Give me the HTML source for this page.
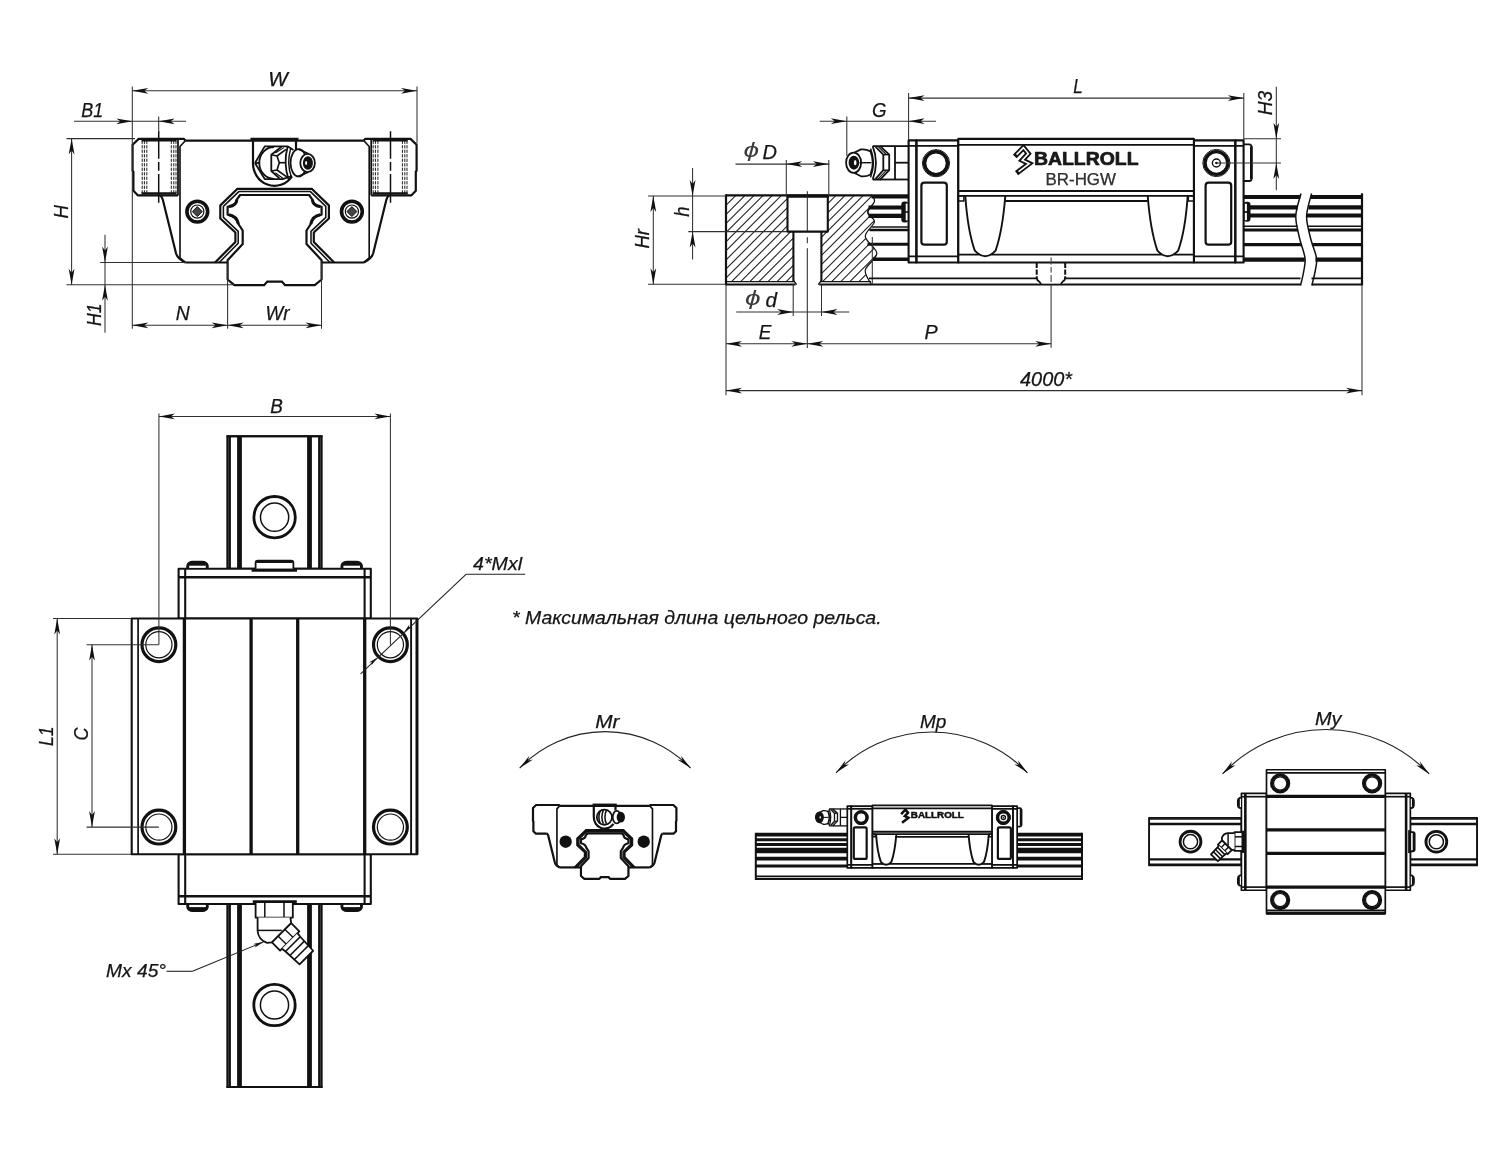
<!DOCTYPE html>
<html lang="ru"><head><meta charset="utf-8"><title>BR-HGW</title>
<style>html,body{margin:0;padding:0;background:#fff;overflow:hidden}svg{display:block;will-change:transform}text{font-family:"Liberation Sans",sans-serif}.ns *{vector-effect:non-scaling-stroke}</style></head><body>
<svg width="1500" height="1151" viewBox="0 0 1500 1151" stroke-linecap="butt" stroke-linejoin="round">
<rect width="1500" height="1151" fill="#fff"/>
<g id="endview">
<path d="M185.3,140.7 L184,138.9 L138.7,138.9 L132.6,144.7 L132.6,170.7 L133.4,171.5 L133.4,190.7 L138,195.4 L178,195.4" stroke="#111" stroke-width="2.2" fill="none" />
<path d="M178,139.5 L178,195.4" stroke="#111" stroke-width="1.7600000000000002" fill="none" />
<path d="M185.3,140.7 L180,146.5 L180,258 L185.3,262.5" stroke="#111" stroke-width="1.6500000000000001" fill="none" />
<path d="M160,195.4 Q162,196.5 162.9,200 L176,253.3 Q177.5,258.6 185.3,262.5" stroke="#111" stroke-width="2.2" fill="none" />
<path d="M185.3,262.5 L227.6,262.5" stroke="#111" stroke-width="2.2" fill="none" />
<path d="M237.5,188.8 L220.3,205.4 L220.3,218.5 L235.4,232.5 L235.4,241.9 L215.1,262.5" stroke="#111" stroke-width="2.2" fill="none" />
<path d="M238.8,191.6 L223.4,206.4 L223.4,217.4 L238.2,231.4 L238.2,243.2 L219.2,262.5" stroke="#111" stroke-width="1.54" fill="none" />
<path d="M240.1,195 L236.8,199.6 Q236.5,205.5 227.6,206.8 L227.6,214.6 Q236.6,216 238.4,224 L242.7,230.5 L242.7,244 L227.6,260.2 L227.6,279.5 L234.4,285.2 L264.1,285.2 L267.2,281.6" stroke="#111" stroke-width="2.2" fill="none" />
<path d="M236.8,199.6 Q236.5,205.5 229,206.6" stroke="#111" stroke-width="3.0" fill="none" />
<path d="M229,214.8 Q236.6,216 238.4,224" stroke="#111" stroke-width="3.0" fill="none" />
<line x1="142.2" y1="140.7" x2="142.2" y2="193.2" stroke="#111" stroke-width="0.95" stroke-dasharray="3.2 1.3"/>
<line x1="144.4" y1="140.7" x2="144.4" y2="193.2" stroke="#111" stroke-width="0.95" stroke-dasharray="3.2 1.3"/>
<line x1="146.8" y1="140.7" x2="146.8" y2="193.2" stroke="#111" stroke-width="0.95" stroke-dasharray="3.2 1.3"/>
<line x1="171.3" y1="140.7" x2="171.3" y2="193.2" stroke="#111" stroke-width="0.95" stroke-dasharray="3.2 1.3"/>
<line x1="173.8" y1="140.7" x2="173.8" y2="193.2" stroke="#111" stroke-width="0.95" stroke-dasharray="3.2 1.3"/>
<line x1="176" y1="140.7" x2="176" y2="193.2" stroke="#111" stroke-width="0.95" stroke-dasharray="3.2 1.3"/>
<line x1="141.5" y1="140.2" x2="176.5" y2="140.2" stroke="#111" stroke-width="2.6" />
<line x1="141.5" y1="193.4" x2="176.5" y2="193.4" stroke="#111" stroke-width="2.4" />
<line x1="158.7" y1="131.3" x2="158.7" y2="202.7" stroke="#111" stroke-width="1.5" stroke-dasharray="27.4 3.3 8.7 3.3 30"/>
<circle cx="197.3" cy="211.6" r="10.4" stroke="#111" stroke-width="3.6" fill="none"/>
<circle cx="197.3" cy="211.6" r="6.6" stroke="#111" stroke-width="1.2" fill="none"/>
<path d="M192.3,211.6 L197.3,206.6 L202.3,211.6 L197.3,216.6 Z" stroke="#111" stroke-width="1.0" fill="#444" />
<path d="M363.9,140.7 L365.2,138.9 L410.5,138.9 L416.6,144.7 L416.6,170.7 L415.8,171.5 L415.8,190.7 L411.2,195.4 L371.2,195.4" stroke="#111" stroke-width="2.2" fill="none" />
<path d="M371.2,139.5 L371.2,195.4" stroke="#111" stroke-width="1.7600000000000002" fill="none" />
<path d="M363.9,140.7 L369.2,146.5 L369.2,258 L363.9,262.5" stroke="#111" stroke-width="1.6500000000000001" fill="none" />
<path d="M389.2,195.4 Q387.2,196.5 386.3,200 L373.2,253.3 Q371.7,258.6 363.9,262.5" stroke="#111" stroke-width="2.2" fill="none" />
<path d="M363.9,262.5 L321.6,262.5" stroke="#111" stroke-width="2.2" fill="none" />
<path d="M311.7,188.8 L328.9,205.4 L328.9,218.5 L313.8,232.5 L313.8,241.9 L334.1,262.5" stroke="#111" stroke-width="2.2" fill="none" />
<path d="M310.4,191.6 L325.8,206.4 L325.8,217.4 L311,231.4 L311,243.2 L330,262.5" stroke="#111" stroke-width="1.54" fill="none" />
<path d="M309.1,195 L312.4,199.6 Q312.7,205.5 321.6,206.8 L321.6,214.6 Q312.6,216 310.8,224 L306.5,230.5 L306.5,244 L321.6,260.2 L321.6,279.5 L314.8,285.2 L285.1,285.2 L282,281.6" stroke="#111" stroke-width="2.2" fill="none" />
<path d="M312.4,199.6 Q312.7,205.5 320.2,206.6" stroke="#111" stroke-width="3.0" fill="none" />
<path d="M320.2,214.8 Q312.6,216 310.8,224" stroke="#111" stroke-width="3.0" fill="none" />
<line x1="407" y1="140.7" x2="407" y2="193.2" stroke="#111" stroke-width="0.95" stroke-dasharray="3.2 1.3"/>
<line x1="404.8" y1="140.7" x2="404.8" y2="193.2" stroke="#111" stroke-width="0.95" stroke-dasharray="3.2 1.3"/>
<line x1="402.4" y1="140.7" x2="402.4" y2="193.2" stroke="#111" stroke-width="0.95" stroke-dasharray="3.2 1.3"/>
<line x1="377.9" y1="140.7" x2="377.9" y2="193.2" stroke="#111" stroke-width="0.95" stroke-dasharray="3.2 1.3"/>
<line x1="375.4" y1="140.7" x2="375.4" y2="193.2" stroke="#111" stroke-width="0.95" stroke-dasharray="3.2 1.3"/>
<line x1="373.2" y1="140.7" x2="373.2" y2="193.2" stroke="#111" stroke-width="0.95" stroke-dasharray="3.2 1.3"/>
<line x1="407.7" y1="140.2" x2="372.7" y2="140.2" stroke="#111" stroke-width="2.6" />
<line x1="407.7" y1="193.4" x2="372.7" y2="193.4" stroke="#111" stroke-width="2.4" />
<line x1="390.5" y1="131.3" x2="390.5" y2="202.7" stroke="#111" stroke-width="1.5" stroke-dasharray="27.4 3.3 8.7 3.3 30"/>
<circle cx="351.9" cy="211.6" r="10.4" stroke="#111" stroke-width="3.6" fill="none"/>
<circle cx="351.9" cy="211.6" r="6.6" stroke="#111" stroke-width="1.2" fill="none"/>
<path d="M346.9,211.6 L351.9,206.6 L356.9,211.6 L351.9,216.6 Z" stroke="#111" stroke-width="1.0" fill="#444" />
<line x1="237.5" y1="188.8" x2="311.7" y2="188.8" stroke="#111" stroke-width="2.2" stroke-linecap="round"/>
<line x1="238.8" y1="191.6" x2="310.4" y2="191.6" stroke="#111" stroke-width="1.54" stroke-linecap="round"/>
<line x1="240.1" y1="195" x2="309.1" y2="195" stroke="#111" stroke-width="2.2" stroke-linecap="round"/>
<line x1="267.2" y1="281.6" x2="282" y2="281.6" stroke="#111" stroke-width="2.2" stroke-linecap="round"/>
<line x1="185.3" y1="140.7" x2="363.9" y2="140.7" stroke="#111" stroke-width="2.2" />
<line x1="250.5" y1="139.4" x2="298.5" y2="139.4" stroke="#111" stroke-width="3.4" />
<path d="M253,140.7 L253,162 A21.5,22.6 0 0 0 292,176.3" stroke="#111" stroke-width="2.2" fill="none" />
<line x1="296" y1="140.7" x2="296" y2="149.6" stroke="#111" stroke-width="2.2" />
<path d="M255,163 L264.7,146.4 L288,146.4 L293.4,150" stroke="#111" stroke-width="1.8" fill="none" />
<path d="M255,163 L264.7,179 L282.7,179.2 L292,176" stroke="#111" stroke-width="1.8" fill="none" />
<path d="M255,163 L259.4,163" stroke="#111" stroke-width="1.8" fill="none" />
<path d="M274,147 A14.7,15.9 0 0 0 274,178.8" stroke="#111" stroke-width="1.8" fill="none" />
<path d="M281.5,146.8 L271.3,154.7 L271.3,171 L279.5,178.4" stroke="#111" stroke-width="1.8" fill="none" />
<path d="M271.3,154.7 L277,156 L279.3,162.7 L277,170 L271.3,171" stroke="#111" stroke-width="1.62" fill="none" />
<path d="M277,156 L286,149.3" stroke="#111" stroke-width="1.62" fill="none" />
<path d="M277,170 L286.7,176.9" stroke="#111" stroke-width="1.62" fill="none" />
<path d="M279.3,162.7 L285.3,162.7" stroke="#111" stroke-width="1.62" fill="none" />
<path d="M275.3,153 L284,147.6" stroke="#111" stroke-width="1.08" fill="none" />
<path d="M275.3,172.8 L283.5,178.7" stroke="#111" stroke-width="1.08" fill="none" />
<path d="M287.6,146.8 Q283.2,163 288.4,179" stroke="#111" stroke-width="1.8" fill="none" />
<path d="M290.6,148.6 Q286.6,163 291.2,176.8" stroke="#111" stroke-width="1.4400000000000002" fill="none" />
<ellipse cx="298.6" cy="162.8" rx="8.1" ry="13.6" stroke="#111" stroke-width="1.8" fill="#fff" />
<path d="M298.6,149.2 L308.5,153.8 M298.6,176.4 L308.5,172" stroke="#111" stroke-width="1.8" fill="none" />
<ellipse cx="307.6" cy="163" rx="7.3" ry="9.1" stroke="#111" stroke-width="1.8" fill="#fff" />
<ellipse cx="307.9" cy="163" rx="4.4" ry="6.2" stroke="#111" stroke-width="1.2" fill="#111" />
<ellipse cx="306.1" cy="163" rx="1" ry="2.1" stroke="#111" stroke-width="0" fill="#fff" />
<line x1="132.3" y1="86.5" x2="132.3" y2="328.8" stroke="#303030" stroke-width="1.05" />
<line x1="417" y1="86.5" x2="417" y2="143.5" stroke="#303030" stroke-width="1.05" />
<line x1="132.3" y1="90.8" x2="417" y2="90.8" stroke="#303030" stroke-width="1.05" />
<polygon points="132.3,90.8 148.3,93.7 144.3,90.8 148.3,87.9" fill="#111"/>
<polygon points="417,90.8 401,87.9 405,90.8 401,93.7" fill="#111"/>
<text x="268.2" y="85.8" font-size="19.5" font-style="italic" font-weight="normal" text-anchor="start" fill="#151515" textLength="19.6" lengthAdjust="spacingAndGlyphs" stroke="#151515" stroke-width="0.25">W</text>
<line x1="74" y1="121.3" x2="186" y2="121.3" stroke="#303030" stroke-width="1.05" />
<polygon points="132.3,121.3 116.3,118.4 120.3,121.3 116.3,124.2" fill="#111"/>
<polygon points="158.7,121.3 174.7,124.2 170.7,121.3 174.7,118.4" fill="#111"/>
<line x1="158.7" y1="116.5" x2="158.7" y2="133" stroke="#303030" stroke-width="1.05" />
<text x="81.3" y="116.7" font-size="19.5" font-style="italic" font-weight="normal" text-anchor="start" fill="#151515" textLength="22" lengthAdjust="spacingAndGlyphs" stroke="#151515" stroke-width="0.25">B1</text>
<line x1="66.5" y1="138.6" x2="135" y2="138.6" stroke="#303030" stroke-width="1.05" />
<line x1="66.5" y1="284.7" x2="234" y2="284.7" stroke="#303030" stroke-width="1.05" />
<line x1="71.6" y1="138.6" x2="71.6" y2="284.7" stroke="#303030" stroke-width="1.05" />
<polygon points="71.6,138.6 68.7,154.6 71.6,150.6 74.5,154.6" fill="#111"/>
<polygon points="71.6,284.7 74.5,268.7 71.6,272.7 68.7,268.7" fill="#111"/>
<text x="67.5" y="218.5" font-size="19.5" font-style="italic" font-weight="normal" text-anchor="start" fill="#151515" textLength="13.5" lengthAdjust="spacingAndGlyphs" transform="rotate(-90 67.5 218.5)" stroke="#151515" stroke-width="0.25">H</text>
<line x1="100.2" y1="262.4" x2="186" y2="262.4" stroke="#303030" stroke-width="1.05" />
<line x1="105" y1="234.8" x2="105" y2="332.8" stroke="#303030" stroke-width="1.05" />
<polygon points="105,262.4 107.9,246.4 105,250.4 102.1,246.4" fill="#111"/>
<polygon points="105,284.7 102.1,300.7 105,296.7 107.9,300.7" fill="#111"/>
<text x="101.2" y="326" font-size="19.5" font-style="italic" font-weight="normal" text-anchor="start" fill="#151515" textLength="22.5" lengthAdjust="spacingAndGlyphs" transform="rotate(-90 101.2 326)" stroke="#151515" stroke-width="0.25">H1</text>
<line x1="227.6" y1="262.5" x2="227.6" y2="328.8" stroke="#303030" stroke-width="1.05" />
<line x1="321.5" y1="262.5" x2="321.5" y2="328.8" stroke="#303030" stroke-width="1.05" />
<line x1="132.3" y1="325.3" x2="227.6" y2="325.3" stroke="#303030" stroke-width="1.05" />
<polygon points="132.3,325.3 148.3,328.2 144.3,325.3 148.3,322.4" fill="#111"/>
<polygon points="227.6,325.3 211.6,322.4 215.6,325.3 211.6,328.2" fill="#111"/>
<line x1="227.6" y1="325.3" x2="321.5" y2="325.3" stroke="#303030" stroke-width="1.05" />
<polygon points="227.6,325.3 243.6,328.2 239.6,325.3 243.6,322.4" fill="#111"/>
<polygon points="321.5,325.3 305.5,322.4 309.5,325.3 305.5,328.2" fill="#111"/>
<text x="175.8" y="320.3" font-size="19.5" font-style="italic" font-weight="normal" text-anchor="start" fill="#151515" textLength="14" lengthAdjust="spacingAndGlyphs" stroke="#151515" stroke-width="0.25">N</text>
<text x="265.4" y="320.3" font-size="19.5" font-style="italic" font-weight="normal" text-anchor="start" fill="#151515" textLength="24" lengthAdjust="spacingAndGlyphs" stroke="#151515" stroke-width="0.25">Wr</text>
</g>
<g id="sideview">
<clipPath id="hc"><path d="M726,195.3 L872,195.3 C872.4,196.37 875.12,198.8 874.4,201.7 C873.68,204.6 867.7,209.35 867.7,212.7 C867.7,216.05 874.8,217.82 874.4,221.8 C874,225.78 864.9,231.33 865.3,236.6 C865.7,241.87 876.8,247.82 876.8,253.4 C876.8,258.98 866.18,264.93 865.3,270.1 C864.42,275.27 870.47,282.02 871.5,284.4 L871.5,281.7 L726,281.7 Z"/></clipPath>
<g clip-path="url(#hc)">
<line x1="349.2" y1="300" x2="499.2" y2="150" stroke="#1c1c1c" stroke-width="1.05" />
<line x1="358.3" y1="300" x2="508.3" y2="150" stroke="#1c1c1c" stroke-width="1.05" />
<line x1="367.4" y1="300" x2="517.4" y2="150" stroke="#1c1c1c" stroke-width="1.05" />
<line x1="376.5" y1="300" x2="526.5" y2="150" stroke="#1c1c1c" stroke-width="1.05" />
<line x1="385.6" y1="300" x2="535.6" y2="150" stroke="#1c1c1c" stroke-width="1.05" />
<line x1="394.7" y1="300" x2="544.7" y2="150" stroke="#1c1c1c" stroke-width="1.05" />
<line x1="403.8" y1="300" x2="553.8" y2="150" stroke="#1c1c1c" stroke-width="1.05" />
<line x1="412.9" y1="300" x2="562.9" y2="150" stroke="#1c1c1c" stroke-width="1.05" />
<line x1="422" y1="300" x2="572" y2="150" stroke="#1c1c1c" stroke-width="1.05" />
<line x1="431.1" y1="300" x2="581.1" y2="150" stroke="#1c1c1c" stroke-width="1.05" />
<line x1="440.2" y1="300" x2="590.2" y2="150" stroke="#1c1c1c" stroke-width="1.05" />
<line x1="449.3" y1="300" x2="599.3" y2="150" stroke="#1c1c1c" stroke-width="1.05" />
<line x1="458.4" y1="300" x2="608.4" y2="150" stroke="#1c1c1c" stroke-width="1.05" />
<line x1="467.5" y1="300" x2="617.5" y2="150" stroke="#1c1c1c" stroke-width="1.05" />
<line x1="476.6" y1="300" x2="626.6" y2="150" stroke="#1c1c1c" stroke-width="1.05" />
<line x1="485.7" y1="300" x2="635.7" y2="150" stroke="#1c1c1c" stroke-width="1.05" />
<line x1="494.8" y1="300" x2="644.8" y2="150" stroke="#1c1c1c" stroke-width="1.05" />
<line x1="503.9" y1="300" x2="653.9" y2="150" stroke="#1c1c1c" stroke-width="1.05" />
<line x1="513" y1="300" x2="663" y2="150" stroke="#1c1c1c" stroke-width="1.05" />
<line x1="522.1" y1="300" x2="672.1" y2="150" stroke="#1c1c1c" stroke-width="1.05" />
<line x1="531.2" y1="300" x2="681.2" y2="150" stroke="#1c1c1c" stroke-width="1.05" />
<line x1="540.3" y1="300" x2="690.3" y2="150" stroke="#1c1c1c" stroke-width="1.05" />
<line x1="549.4" y1="300" x2="699.4" y2="150" stroke="#1c1c1c" stroke-width="1.05" />
<line x1="558.5" y1="300" x2="708.5" y2="150" stroke="#1c1c1c" stroke-width="1.05" />
<line x1="567.6" y1="300" x2="717.6" y2="150" stroke="#1c1c1c" stroke-width="1.05" />
<line x1="576.7" y1="300" x2="726.7" y2="150" stroke="#1c1c1c" stroke-width="1.05" />
<line x1="585.8" y1="300" x2="735.8" y2="150" stroke="#1c1c1c" stroke-width="1.05" />
<line x1="594.9" y1="300" x2="744.9" y2="150" stroke="#1c1c1c" stroke-width="1.05" />
<line x1="604" y1="300" x2="754" y2="150" stroke="#1c1c1c" stroke-width="1.05" />
<line x1="613.1" y1="300" x2="763.1" y2="150" stroke="#1c1c1c" stroke-width="1.05" />
<line x1="622.2" y1="300" x2="772.2" y2="150" stroke="#1c1c1c" stroke-width="1.05" />
<line x1="631.3" y1="300" x2="781.3" y2="150" stroke="#1c1c1c" stroke-width="1.05" />
<line x1="640.4" y1="300" x2="790.4" y2="150" stroke="#1c1c1c" stroke-width="1.05" />
<line x1="649.5" y1="300" x2="799.5" y2="150" stroke="#1c1c1c" stroke-width="1.05" />
<line x1="658.6" y1="300" x2="808.6" y2="150" stroke="#1c1c1c" stroke-width="1.05" />
<line x1="667.7" y1="300" x2="817.7" y2="150" stroke="#1c1c1c" stroke-width="1.05" />
<line x1="676.8" y1="300" x2="826.8" y2="150" stroke="#1c1c1c" stroke-width="1.05" />
<line x1="685.9" y1="300" x2="835.9" y2="150" stroke="#1c1c1c" stroke-width="1.05" />
<line x1="695" y1="300" x2="845" y2="150" stroke="#1c1c1c" stroke-width="1.05" />
<line x1="704.1" y1="300" x2="854.1" y2="150" stroke="#1c1c1c" stroke-width="1.05" />
<line x1="713.2" y1="300" x2="863.2" y2="150" stroke="#1c1c1c" stroke-width="1.05" />
<line x1="722.3" y1="300" x2="872.3" y2="150" stroke="#1c1c1c" stroke-width="1.05" />
<line x1="731.4" y1="300" x2="881.4" y2="150" stroke="#1c1c1c" stroke-width="1.05" />
<line x1="740.5" y1="300" x2="890.5" y2="150" stroke="#1c1c1c" stroke-width="1.05" />
<line x1="749.6" y1="300" x2="899.6" y2="150" stroke="#1c1c1c" stroke-width="1.05" />
<line x1="758.7" y1="300" x2="908.7" y2="150" stroke="#1c1c1c" stroke-width="1.05" />
<line x1="767.8" y1="300" x2="917.8" y2="150" stroke="#1c1c1c" stroke-width="1.05" />
<line x1="776.9" y1="300" x2="926.9" y2="150" stroke="#1c1c1c" stroke-width="1.05" />
<line x1="786" y1="300" x2="936" y2="150" stroke="#1c1c1c" stroke-width="1.05" />
<line x1="795.1" y1="300" x2="945.1" y2="150" stroke="#1c1c1c" stroke-width="1.05" />
<line x1="804.2" y1="300" x2="954.2" y2="150" stroke="#1c1c1c" stroke-width="1.05" />
<line x1="813.3" y1="300" x2="963.3" y2="150" stroke="#1c1c1c" stroke-width="1.05" />
<line x1="822.4" y1="300" x2="972.4" y2="150" stroke="#1c1c1c" stroke-width="1.05" />
<line x1="831.5" y1="300" x2="981.5" y2="150" stroke="#1c1c1c" stroke-width="1.05" />
<line x1="840.6" y1="300" x2="990.6" y2="150" stroke="#1c1c1c" stroke-width="1.05" />
<line x1="849.7" y1="300" x2="999.7" y2="150" stroke="#1c1c1c" stroke-width="1.05" />
<line x1="858.8" y1="300" x2="1008.8" y2="150" stroke="#1c1c1c" stroke-width="1.05" />
<line x1="867.9" y1="300" x2="1017.9" y2="150" stroke="#1c1c1c" stroke-width="1.05" />
<line x1="877" y1="300" x2="1027" y2="150" stroke="#1c1c1c" stroke-width="1.05" />
<line x1="886.1" y1="300" x2="1036.1" y2="150" stroke="#1c1c1c" stroke-width="1.05" />
<line x1="895.2" y1="300" x2="1045.2" y2="150" stroke="#1c1c1c" stroke-width="1.05" />
<line x1="904.3" y1="300" x2="1054.3" y2="150" stroke="#1c1c1c" stroke-width="1.05" />
<line x1="913.4" y1="300" x2="1063.4" y2="150" stroke="#1c1c1c" stroke-width="1.05" />
<line x1="922.5" y1="300" x2="1072.5" y2="150" stroke="#1c1c1c" stroke-width="1.05" />
<line x1="931.6" y1="300" x2="1081.6" y2="150" stroke="#1c1c1c" stroke-width="1.05" />
<line x1="940.7" y1="300" x2="1090.7" y2="150" stroke="#1c1c1c" stroke-width="1.05" />
<line x1="949.8" y1="300" x2="1099.8" y2="150" stroke="#1c1c1c" stroke-width="1.05" />
<line x1="958.9" y1="300" x2="1108.9" y2="150" stroke="#1c1c1c" stroke-width="1.05" />
<line x1="968" y1="300" x2="1118" y2="150" stroke="#1c1c1c" stroke-width="1.05" />
<line x1="977.1" y1="300" x2="1127.1" y2="150" stroke="#1c1c1c" stroke-width="1.05" />
<line x1="986.2" y1="300" x2="1136.2" y2="150" stroke="#1c1c1c" stroke-width="1.05" />
<line x1="995.3" y1="300" x2="1145.3" y2="150" stroke="#1c1c1c" stroke-width="1.05" />
<line x1="1004.4" y1="300" x2="1154.4" y2="150" stroke="#1c1c1c" stroke-width="1.05" />
<line x1="1013.5" y1="300" x2="1163.5" y2="150" stroke="#1c1c1c" stroke-width="1.05" />
<line x1="1022.6" y1="300" x2="1172.6" y2="150" stroke="#1c1c1c" stroke-width="1.05" />
<line x1="1031.7" y1="300" x2="1181.7" y2="150" stroke="#1c1c1c" stroke-width="1.05" />
<line x1="1040.8" y1="300" x2="1190.8" y2="150" stroke="#1c1c1c" stroke-width="1.05" />
<line x1="1049.9" y1="300" x2="1199.9" y2="150" stroke="#1c1c1c" stroke-width="1.05" />
<line x1="1059" y1="300" x2="1209" y2="150" stroke="#1c1c1c" stroke-width="1.05" />
<line x1="1068.1" y1="300" x2="1218.1" y2="150" stroke="#1c1c1c" stroke-width="1.05" />
</g>
<rect x="787.5" y="195.3" width="40.3" height="36.3" rx="0" stroke="#111" stroke-width="0" fill="#fff"/>
<rect x="793.4" y="231" width="28" height="54" rx="0" stroke="#111" stroke-width="0" fill="#fff"/>
<line x1="726" y1="194.3" x2="726" y2="285.4" stroke="#111" stroke-width="2.2" />
<line x1="726" y1="195.3" x2="872" y2="195.3" stroke="#111" stroke-width="2.2" />
<line x1="786.5" y1="196.2" x2="829" y2="196.2" stroke="#111" stroke-width="3.2" />
<line x1="726" y1="281.7" x2="794.6" y2="281.7" stroke="#111" stroke-width="1.3" />
<line x1="820.2" y1="281.7" x2="871" y2="281.7" stroke="#111" stroke-width="1.3" />
<line x1="726" y1="284.5" x2="795.5" y2="284.5" stroke="#111" stroke-width="2.0" />
<line x1="819.3" y1="284.5" x2="1300.5" y2="284.5" stroke="#111" stroke-width="2.0" />
<line x1="1311.8" y1="284.5" x2="1362" y2="284.5" stroke="#111" stroke-width="2.0" />
<path d="M787.5,196 L787.5,231.6 L827.8,231.6 L827.8,196" stroke="#111" stroke-width="2.1" fill="none" />
<path d="M793.4,231.6 L793.4,281" stroke="#111" stroke-width="2.1" fill="none" />
<path d="M821.4,231.6 L821.4,281" stroke="#111" stroke-width="2.1" fill="none" />
<path d="M793.6,280.6 L796.6,284.6" stroke="#111" stroke-width="1.3" fill="none" />
<path d="M821.2,280.6 L818.2,284.6" stroke="#111" stroke-width="1.3" fill="none" />
<path d="M872,195.3 C872.4,196.37 875.12,198.8 874.4,201.7 C873.68,204.6 867.7,209.35 867.7,212.7 C867.7,216.05 874.8,217.82 874.4,221.8 C874,225.78 864.9,231.33 865.3,236.6 C865.7,241.87 876.8,247.82 876.8,253.4 C876.8,258.98 866.18,264.93 865.3,270.1 C864.42,275.27 870.47,282.02 871.5,284.4" stroke="#111" stroke-width="1.2" fill="none" />
<rect x="871.5" y="194.3" width="37" height="4.2" rx="0" stroke="#111" stroke-width="0" fill="#111"/>
<rect x="868.5" y="205.5" width="34" height="4" rx="0" stroke="#111" stroke-width="0" fill="#111"/>
<rect x="868.5" y="213.7" width="34" height="4.3" rx="0" stroke="#111" stroke-width="0" fill="#111"/>
<path d="M869,209.5 Q866.2,211.6 869,213.7" stroke="#111" stroke-width="1.2" fill="none" />
<rect x="901.3" y="201.6" width="7.2" height="20.8" rx="3" fill="#111"/>
<rect x="905.7" y="203.6" width="2.3" height="7.6" rx="0" stroke="#111" stroke-width="0" fill="#fff"/>
<rect x="905.7" y="212.8" width="2.3" height="7.6" rx="0" stroke="#111" stroke-width="0" fill="#fff"/>
<line x1="871.5" y1="227" x2="908" y2="227" stroke="#111" stroke-width="1.5" />
<line x1="869.5" y1="230" x2="908" y2="230" stroke="#111" stroke-width="2.6" />
<line x1="867.5" y1="244.3" x2="908" y2="244.3" stroke="#111" stroke-width="3.0" />
<line x1="873" y1="259.2" x2="908" y2="259.2" stroke="#111" stroke-width="3.4" />
<line x1="872.3" y1="237" x2="872.3" y2="284.5" stroke="#303030" stroke-width="1.05" />
<line x1="869" y1="278.4" x2="1300.5" y2="278.4" stroke="#111" stroke-width="1.9" />
<line x1="1311.5" y1="278.4" x2="1362" y2="278.4" stroke="#111" stroke-width="1.9" />
<line x1="1244" y1="197" x2="1300.19" y2="197" stroke="#111" stroke-width="4.2" />
<line x1="1310.79" y1="197" x2="1362" y2="197" stroke="#111" stroke-width="4.2" />
<line x1="1244" y1="207.4" x2="1297.79" y2="207.4" stroke="#111" stroke-width="4.2" />
<line x1="1308.39" y1="207.4" x2="1362" y2="207.4" stroke="#111" stroke-width="4.2" />
<line x1="1244" y1="215.4" x2="1295.94" y2="215.4" stroke="#111" stroke-width="4.0" />
<line x1="1306.54" y1="215.4" x2="1362" y2="215.4" stroke="#111" stroke-width="4.0" />
<line x1="1244" y1="226.2" x2="1297.52" y2="226.2" stroke="#111" stroke-width="1.6" />
<line x1="1308.12" y1="226.2" x2="1362" y2="226.2" stroke="#111" stroke-width="1.6" />
<line x1="1244" y1="229.9" x2="1298.14" y2="229.9" stroke="#111" stroke-width="3.0" />
<line x1="1308.74" y1="229.9" x2="1362" y2="229.9" stroke="#111" stroke-width="3.0" />
<line x1="1244" y1="244.6" x2="1301.32" y2="244.6" stroke="#111" stroke-width="3.4" />
<line x1="1311.91" y1="244.6" x2="1362" y2="244.6" stroke="#111" stroke-width="3.4" />
<line x1="1244" y1="259.6" x2="1304.84" y2="259.6" stroke="#111" stroke-width="4.2" />
<line x1="1315.44" y1="259.6" x2="1362" y2="259.6" stroke="#111" stroke-width="4.2" />
<line x1="1362" y1="193.3" x2="1362" y2="285.5" stroke="#111" stroke-width="2.2" />
<path d="M1301,193.5 C1300.13,197.25 1296.05,208.58 1295.8,216 C1295.55,223.42 1297.97,231 1299.5,238 C1301.03,245 1304.32,252.33 1305,258 C1305.68,263.67 1304.35,267.42 1303.6,272 C1302.85,276.58 1301.02,283.25 1300.5,285.5" stroke="#111" stroke-width="1.5" fill="none" />
<path d="M1311.6,193.5 C1310.77,197.25 1306.78,208.58 1306.6,216 C1306.42,223.42 1308.85,231 1310.5,238 C1312.15,245 1315.75,252.33 1316.5,258 C1317.25,263.67 1315.78,267.42 1315,272 C1314.22,276.58 1312.33,283.25 1311.8,285.5" stroke="#111" stroke-width="1.5" fill="none" />
<rect x="1243.5" y="201.8" width="7" height="20" rx="3" fill="#111"/>
<rect x="1244.6" y="203.8" width="2.3" height="7.3" rx="0" stroke="#111" stroke-width="0" fill="#fff"/>
<rect x="1244.6" y="212.9" width="2.3" height="7.3" rx="0" stroke="#111" stroke-width="0" fill="#fff"/>
<rect x="1037.7" y="276" width="26.6" height="7.4" rx="0" stroke="#111" stroke-width="0" fill="#fff"/>
<line x1="1036.7" y1="262.5" x2="1036.7" y2="278.6" stroke="#111" stroke-width="2.0" stroke-dasharray="5.4 1.5"/>
<line x1="1065.2" y1="262.5" x2="1065.2" y2="278.6" stroke="#111" stroke-width="2.0" stroke-dasharray="5.4 1.5"/>
<path d="M1036.7,278.2 Q1037,280.6 1038.8,281.2 Q1040,282 1041,284.4" stroke="#111" stroke-width="1.8" fill="none" />
<path d="M1065.2,278.2 Q1064.9,280.6 1063.1,281.2 Q1061.9,282 1060.9,284.4" stroke="#111" stroke-width="1.8" fill="none" />
<rect x="908.6" y="140.4" width="335" height="122.1" rx="0" stroke="#111" stroke-width="0" fill="#fff"/>
<rect x="908.6" y="140.4" width="7.8" height="122.1" rx="0" stroke="#111" stroke-width="2.1" fill="none"/>
<rect x="916.4" y="140.4" width="41.9" height="122.1" rx="0" stroke="#111" stroke-width="2.1" fill="none"/>
<rect x="1235.3" y="140.4" width="8.3" height="122.1" rx="0" stroke="#111" stroke-width="2.1" fill="none"/>
<rect x="1193.9" y="140.4" width="41.4" height="122.1" rx="0" stroke="#111" stroke-width="2.1" fill="none"/>
<line x1="908.6" y1="145.8" x2="958.3" y2="145.8" stroke="#111" stroke-width="1.8" />
<line x1="1193.9" y1="145.9" x2="1243.6" y2="145.9" stroke="#111" stroke-width="1.8" />
<line x1="908.6" y1="256.4" x2="958.3" y2="256.4" stroke="#111" stroke-width="1.8" />
<line x1="1193.9" y1="256.4" x2="1243.6" y2="256.4" stroke="#111" stroke-width="1.8" />
<rect x="958.3" y="138.9" width="235.6" height="123.6" rx="0" stroke="#111" stroke-width="2.1" fill="#fff"/>
<line x1="958.3" y1="144.8" x2="1193.9" y2="144.8" stroke="#111" stroke-width="1.8" />
<line x1="958.3" y1="191" x2="1193.9" y2="191" stroke="#111" stroke-width="2.0" />
<line x1="958.3" y1="195.8" x2="1193.9" y2="195.8" stroke="#111" stroke-width="1.8" />
<line x1="1005.3" y1="201" x2="1147.7" y2="201" stroke="#111" stroke-width="1.8" />
<line x1="958.3" y1="254.6" x2="979.3" y2="254.6" stroke="#111" stroke-width="1.8" />
<line x1="991.2" y1="254.6" x2="1161.8" y2="254.6" stroke="#111" stroke-width="1.8" />
<line x1="1173.7" y1="254.6" x2="1193.9" y2="254.6" stroke="#111" stroke-width="1.8" />
<rect x="958.3" y="195.8" width="5.6" height="5.2" rx="0" stroke="#111" stroke-width="1.5" fill="none"/>
<rect x="1188.3" y="195.8" width="5.6" height="5.2" rx="0" stroke="#111" stroke-width="1.5" fill="none"/>
<path d="M965.3,195.8 C966.6,215 969.2,235 974.8,250.6 Q985.3,262 995.6,250.6 C1001,235 1003.8,215 1005.3,195.8" stroke="#111" stroke-width="1.9" fill="none" />
<path d="M1147.7,195.8 C1149.2,215 1152,235 1157.4,250.6 Q1167.7,262 1178.2,250.6 C1183.8,235 1186.4,215 1187.7,195.8" stroke="#111" stroke-width="1.9" fill="none" />
<circle cx="936" cy="163.2" r="11.4" stroke="#111" stroke-width="3.4" fill="none"/>
<circle cx="936" cy="163.2" r="13.6" stroke="#111" stroke-width="1.0" fill="none"/>
<circle cx="1216.4" cy="163" r="11.4" stroke="#111" stroke-width="3.4" fill="none"/>
<circle cx="1216.4" cy="163" r="13.6" stroke="#111" stroke-width="1.0" fill="none"/>
<circle cx="1216.4" cy="163" r="4" stroke="#111" stroke-width="1.4" fill="none"/>
<circle cx="1216.4" cy="163" r="1.3" stroke="#111" stroke-width="0" fill="#111"/>
<rect x="921.4" y="182.6" width="25.4" height="62.1" rx="3" stroke="#111" stroke-width="2.2" fill="none"/>
<rect x="1205.6" y="182.6" width="25.6" height="62.1" rx="3" stroke="#111" stroke-width="2.2" fill="none"/>
<path d="M1243.6,144.3 L1249,144.3 Q1251.6,144.3 1251.6,147 L1251.6,178.4 Q1251.6,181 1249,181 L1243.6,181" stroke="#111" stroke-width="1.8" fill="none" />
<line x1="1251.3" y1="146.5" x2="1251.3" y2="179" stroke="#111" stroke-width="2.6" />
<path d="M1016.6,154.6 L1023.4,147.6 L1028.3,153.6 L1022.2,160.2 L1029.2,163.6 L1018.6,171.6" stroke="#111" stroke-width="5.2" fill="none" stroke-linejoin="miter" stroke-linecap="square"/>
<path d="M1016.6,154.6 L1023.4,147.6 L1028.3,153.6 L1022.2,160.2 L1029.2,163.6 L1018.6,171.6" stroke="#fff" stroke-width="1.6" fill="none" stroke-linejoin="miter" stroke-linecap="butt"/>
<text x="1034" y="164.5" font-size="18.2" font-style="normal" font-weight="bold" text-anchor="start" fill="#1a1a1a" textLength="104.5" lengthAdjust="spacingAndGlyphs" stroke="#111" stroke-width="0.7">BALLROLL</text>
<text x="1045.5" y="184.6" font-size="16" font-style="normal" font-weight="normal" text-anchor="start" fill="#333" textLength="70.5" lengthAdjust="spacingAndGlyphs" stroke="#151515" stroke-width="0.25">BR-HGW</text>
<line x1="880.2" y1="146.1" x2="908.6" y2="146.1" stroke="#111" stroke-width="1.8" />
<line x1="880.2" y1="179.5" x2="908.6" y2="179.5" stroke="#111" stroke-width="1.8" />
<line x1="895" y1="146.1" x2="895" y2="179.5" stroke="#111" stroke-width="1.8" />
<line x1="895" y1="162.7" x2="908.6" y2="162.7" stroke="#111" stroke-width="1.8" />
<path d="M872.7,146.1 L880.2,146.1 L889.2,154.7 L889.2,170.2 L880.2,179.5 L872.7,179.5" stroke="#111" stroke-width="1.8" fill="none" />
<path d="M883.3,154.7 L889.2,154.7" stroke="#111" stroke-width="1.4400000000000002" fill="none" />
<path d="M883.3,170.2 L889.2,170.2" stroke="#111" stroke-width="1.4400000000000002" fill="none" />
<path d="M875.6,146.8 L883.3,154.7 L883.3,170.2 L875.6,178.8" stroke="#111" stroke-width="1.8" fill="none" />
<path d="M878,146.4 L886.3,154.5" stroke="#111" stroke-width="1.08" fill="none" />
<path d="M878,179.2 L886.3,170.4" stroke="#111" stroke-width="1.08" fill="none" />
<path d="M872.7,146.1 Q879.2,162.7 872.7,179.5" stroke="#111" stroke-width="1.8" fill="none" />
<path d="M870.5,148.6 Q876.2,162.7 870.5,177.4" stroke="#111" stroke-width="1.53" fill="none" />
<path d="M854,152.7 L861,149.4 Q866,148.8 870.5,151.5 Q875,162.7 870.5,174.5 Q866,177 861,176.3 L854,172.8" stroke="#111" stroke-width="1.8" fill="#fff" />
<ellipse cx="853.6" cy="162.7" rx="7.5" ry="10.1" stroke="#111" stroke-width="1.8" fill="#fff" />
<ellipse cx="853.9" cy="162.7" rx="4.7" ry="6.4" stroke="#111" stroke-width="1.2" fill="#111" />
<ellipse cx="855.2" cy="162.7" rx="1.3" ry="2.6" stroke="#111" stroke-width="0" fill="#fff" />
<line x1="859.5" y1="162.7" x2="871.5" y2="162.7" stroke="#111" stroke-width="1.4400000000000002" />
<line x1="908.6" y1="93" x2="908.6" y2="140" stroke="#303030" stroke-width="1.05" />
<line x1="1243.8" y1="93" x2="1243.8" y2="140" stroke="#303030" stroke-width="1.05" />
<line x1="908.6" y1="98.1" x2="1243.8" y2="98.1" stroke="#303030" stroke-width="1.05" />
<polygon points="908.6,98.1 924.6,101 920.6,98.1 924.6,95.2" fill="#111"/>
<polygon points="1243.8,98.1 1227.8,95.2 1231.8,98.1 1227.8,101" fill="#111"/>
<text x="1073.3" y="93.4" font-size="19.5" font-style="italic" font-weight="normal" text-anchor="start" fill="#151515" textLength="9.5" lengthAdjust="spacingAndGlyphs" stroke="#151515" stroke-width="0.25">L</text>
<line x1="819.7" y1="121.2" x2="936" y2="121.2" stroke="#303030" stroke-width="1.05" />
<polygon points="846.8,121.2 830.8,118.3 834.8,121.2 830.8,124.1" fill="#111"/>
<polygon points="908.6,121.2 924.6,124.1 920.6,121.2 924.6,118.3" fill="#111"/>
<line x1="846.8" y1="116.5" x2="846.8" y2="156" stroke="#303030" stroke-width="1.05" />
<text x="872" y="116.6" font-size="19.5" font-style="italic" font-weight="normal" text-anchor="start" fill="#151515" textLength="14.5" lengthAdjust="spacingAndGlyphs" stroke="#151515" stroke-width="0.25">G</text>
<line x1="735.5" y1="164.1" x2="829.3" y2="164.1" stroke="#303030" stroke-width="1.05" />
<polygon points="786.3,164.1 802.3,167 798.3,164.1 802.3,161.2" fill="#111"/>
<polygon points="828.8,164.1 812.8,161.2 816.8,164.1 812.8,167" fill="#111"/>
<line x1="786.3" y1="160" x2="786.3" y2="196" stroke="#303030" stroke-width="1.05" />
<line x1="828.8" y1="160" x2="828.8" y2="196" stroke="#303030" stroke-width="1.05" />
<text x="743.6" y="156.9" font-size="21" font-style="italic" font-weight="normal" text-anchor="start" fill="#3a3a3a" textLength="15.6" lengthAdjust="spacingAndGlyphs" >ϕ</text>
<text x="762.5" y="159.3" font-size="19.5" font-style="italic" font-weight="normal" text-anchor="start" fill="#151515" textLength="14.5" lengthAdjust="spacingAndGlyphs" stroke="#151515" stroke-width="0.25">D</text>
<line x1="807.3" y1="191.2" x2="807.3" y2="348" stroke="#222" stroke-width="1.0" stroke-dasharray="40 6 6 5 200"/>
<line x1="648" y1="195.9" x2="726" y2="195.9" stroke="#303030" stroke-width="1.05" />
<line x1="648" y1="284.2" x2="726" y2="284.2" stroke="#303030" stroke-width="1.05" />
<line x1="653.3" y1="195.9" x2="653.3" y2="284.2" stroke="#303030" stroke-width="1.05" />
<polygon points="653.3,195.9 650.4,211.9 653.3,207.9 656.2,211.9" fill="#111"/>
<polygon points="653.3,284.2 656.2,268.2 653.3,272.2 650.4,268.2" fill="#111"/>
<text x="649.3" y="248.5" font-size="19.5" font-style="italic" font-weight="normal" text-anchor="start" fill="#151515" textLength="19.5" lengthAdjust="spacingAndGlyphs" transform="rotate(-90 649.3 248.5)" stroke="#151515" stroke-width="0.25">Hr</text>
<line x1="688.3" y1="231.6" x2="787" y2="231.6" stroke="#303030" stroke-width="1.05" />
<line x1="692.6" y1="168" x2="692.6" y2="259.6" stroke="#303030" stroke-width="1.05" />
<polygon points="692.6,195.9 695.5,179.9 692.6,183.9 689.7,179.9" fill="#111"/>
<polygon points="692.6,231.6 689.7,247.6 692.6,243.6 695.5,247.6" fill="#111"/>
<text x="688.6" y="216.8" font-size="19.5" font-style="italic" font-weight="normal" text-anchor="start" fill="#151515" textLength="10.2" lengthAdjust="spacingAndGlyphs" transform="rotate(-90 688.6 216.8)" stroke="#151515" stroke-width="0.25">h</text>
<line x1="793.2" y1="284.5" x2="793.2" y2="316" stroke="#303030" stroke-width="1.05" />
<line x1="821.5" y1="284.5" x2="821.5" y2="316" stroke="#303030" stroke-width="1.05" />
<line x1="736.2" y1="312" x2="849.2" y2="312" stroke="#303030" stroke-width="1.05" />
<polygon points="793.2,312 777.2,309.1 781.2,312 777.2,314.9" fill="#111"/>
<polygon points="821.5,312 837.5,314.9 833.5,312 837.5,309.1" fill="#111"/>
<text x="744.9" y="304.9" font-size="21" font-style="italic" font-weight="normal" text-anchor="start" fill="#3a3a3a" textLength="15.6" lengthAdjust="spacingAndGlyphs" >ϕ</text>
<text x="765.5" y="307.1" font-size="19.5" font-style="italic" font-weight="normal" text-anchor="start" fill="#151515" textLength="11.5" lengthAdjust="spacingAndGlyphs" stroke="#151515" stroke-width="0.25">d</text>
<line x1="726" y1="285.5" x2="726" y2="395.3" stroke="#303030" stroke-width="1.05" />
<line x1="726" y1="343.8" x2="807.3" y2="343.8" stroke="#303030" stroke-width="1.05" />
<polygon points="726,343.8 742,346.7 738,343.8 742,340.9" fill="#111"/>
<polygon points="807.3,343.8 791.3,340.9 795.3,343.8 791.3,346.7" fill="#111"/>
<line x1="807.3" y1="343.8" x2="1051.2" y2="343.8" stroke="#303030" stroke-width="1.05" />
<polygon points="807.3,343.8 823.3,346.7 819.3,343.8 823.3,340.9" fill="#111"/>
<polygon points="1051.2,343.8 1035.2,340.9 1039.2,343.8 1035.2,346.7" fill="#111"/>
<line x1="1051.1" y1="257.5" x2="1051.1" y2="284.5" stroke="#444" stroke-width="1.1" stroke-dasharray="7 2.5 5.5 2.5"/>
<line x1="1051.1" y1="284.5" x2="1051.1" y2="347.8" stroke="#303030" stroke-width="1.05" />
<text x="758.8" y="338.8" font-size="19.5" font-style="italic" font-weight="normal" text-anchor="start" fill="#151515" textLength="12.6" lengthAdjust="spacingAndGlyphs" stroke="#151515" stroke-width="0.25">E</text>
<text x="924.5" y="339.3" font-size="19.5" font-style="italic" font-weight="normal" text-anchor="start" fill="#151515" textLength="13.2" lengthAdjust="spacingAndGlyphs" stroke="#151515" stroke-width="0.25">P</text>
<line x1="1362" y1="285.5" x2="1362" y2="395.3" stroke="#303030" stroke-width="1.05" />
<line x1="726" y1="390.6" x2="1362" y2="390.6" stroke="#303030" stroke-width="1.05" />
<polygon points="726,390.6 742,393.5 738,390.6 742,387.7" fill="#111"/>
<polygon points="1362,390.6 1346,387.7 1350,390.6 1346,393.5" fill="#111"/>
<text x="1020" y="386" font-size="19.5" font-style="italic" font-weight="normal" text-anchor="start" fill="#151515" textLength="52" lengthAdjust="spacingAndGlyphs" stroke="#151515" stroke-width="0.25">4000*</text>
<line x1="1243.8" y1="138.7" x2="1281" y2="138.7" stroke="#303030" stroke-width="1.05" />
<line x1="1216.4" y1="163" x2="1281" y2="163" stroke="#303030" stroke-width="1.05" />
<line x1="1276.3" y1="86.7" x2="1276.3" y2="190.3" stroke="#303030" stroke-width="1.05" />
<polygon points="1276.3,138.7 1279.2,122.7 1276.3,126.7 1273.4,122.7" fill="#111"/>
<polygon points="1276.3,163 1273.4,179 1276.3,175 1279.2,179" fill="#111"/>
<text x="1272.3" y="115.3" font-size="19.5" font-style="italic" font-weight="normal" text-anchor="start" fill="#151515" textLength="24.5" lengthAdjust="spacingAndGlyphs" transform="rotate(-90 1272.3 115.3)" stroke="#151515" stroke-width="0.25">H3</text>
</g>
<g id="planview">
<rect x="227.4" y="436.3" width="94.2" height="132.5" rx="0" stroke="#111" stroke-width="2.1" fill="#fff"/>
<line x1="229.6" y1="436.3" x2="229.6" y2="568.8" stroke="#111" stroke-width="2.6" />
<line x1="319.4" y1="436.3" x2="319.4" y2="568.8" stroke="#111" stroke-width="2.6" />
<line x1="239.5" y1="436.3" x2="239.5" y2="568.8" stroke="#111" stroke-width="4.8" />
<line x1="309.5" y1="436.3" x2="309.5" y2="568.8" stroke="#111" stroke-width="4.8" />
<line x1="226.4" y1="436.3" x2="322.6" y2="436.3" stroke="#111" stroke-width="2.1" />
<rect x="227.4" y="904" width="94.2" height="183" rx="0" stroke="#111" stroke-width="2.1" fill="#fff"/>
<line x1="229.6" y1="904" x2="229.6" y2="1087" stroke="#111" stroke-width="2.6" />
<line x1="319.4" y1="904" x2="319.4" y2="1087" stroke="#111" stroke-width="2.6" />
<line x1="239.5" y1="904" x2="239.5" y2="1087" stroke="#111" stroke-width="4.8" />
<line x1="309.5" y1="904" x2="309.5" y2="1087" stroke="#111" stroke-width="4.8" />
<line x1="226.4" y1="1087" x2="322.6" y2="1087" stroke="#111" stroke-width="2.1" />
<circle cx="274.6" cy="517.2" r="20.7" stroke="#111" stroke-width="2.8" fill="none"/>
<circle cx="274.6" cy="517.2" r="14.1" stroke="#111" stroke-width="1.5" fill="none"/>
<circle cx="274.5" cy="1005" r="20.7" stroke="#111" stroke-width="2.8" fill="none"/>
<circle cx="274.5" cy="1005" r="14.1" stroke="#111" stroke-width="1.5" fill="none"/>
<rect x="178.6" y="568.8" width="192.2" height="49.7" rx="0" stroke="#111" stroke-width="2.1" fill="#fff"/>
<line x1="178.6" y1="577.2" x2="370.8" y2="577.2" stroke="#111" stroke-width="2.6" />
<line x1="185.2" y1="568.8" x2="185.2" y2="618.5" stroke="#111" stroke-width="2.1" />
<line x1="364.6" y1="568.8" x2="364.6" y2="618.5" stroke="#111" stroke-width="2.1" />
<path d="M187,568.8 L187,565.4 Q188,561.6 193,561.4 L202,561.4 Q207,561.6 208,565.4 L208,568.8" stroke="#111" stroke-width="1.4" fill="#111" />
<rect x="189.2" y="565.7" width="16.6" height="2.2" rx="0" stroke="#111" stroke-width="0" fill="#fff"/>
<path d="M341.2,568.8 L341.2,565.4 Q342.2,561.6 347.2,561.4 L356.2,561.4 Q361.2,561.6 362.2,565.4 L362.2,568.8" stroke="#111" stroke-width="1.4" fill="#111" />
<rect x="343.4" y="565.7" width="16.6" height="2.2" rx="0" stroke="#111" stroke-width="0" fill="#fff"/>
<rect x="178.6" y="854.2" width="192.2" height="49.8" rx="0" stroke="#111" stroke-width="2.1" fill="#fff"/>
<line x1="178.6" y1="896.2" x2="370.8" y2="896.2" stroke="#111" stroke-width="2.6" />
<line x1="185.2" y1="854.2" x2="185.2" y2="904" stroke="#111" stroke-width="2.1" />
<line x1="364.6" y1="854.2" x2="364.6" y2="904" stroke="#111" stroke-width="2.1" />
<path d="M187,904 L187,907.4 Q188,911.2 193,911.4 L202,911.4 Q207,911.2 208,907.4 L208,904" stroke="#111" stroke-width="1.4" fill="#111" />
<rect x="189.2" y="904.9" width="16.6" height="2.2" rx="0" stroke="#111" stroke-width="0" fill="#fff"/>
<path d="M341.2,904 L341.2,907.4 Q342.2,911.2 347.2,911.4 L356.2,911.4 Q361.2,911.2 362.2,907.4 L362.2,904" stroke="#111" stroke-width="1.4" fill="#111" />
<rect x="343.4" y="904.9" width="16.6" height="2.2" rx="0" stroke="#111" stroke-width="0" fill="#fff"/>
<path d="M255.6,568.8 L255.6,563 Q255.6,560.6 258,560.6 L291,560.6 Q293.4,560.6 293.4,563 L293.4,568.8" stroke="#111" stroke-width="1.8" fill="#fff" />
<line x1="256.5" y1="561.6" x2="292.5" y2="561.6" stroke="#111" stroke-width="2.6" />
<line x1="251.6" y1="570.2" x2="297" y2="570.2" stroke="#111" stroke-width="3.0" />
<rect x="131.7" y="618.5" width="285.5" height="235.7" rx="0" stroke="#111" stroke-width="2.1" fill="#fff"/>
<line x1="138.1" y1="618.5" x2="138.1" y2="854.2" stroke="#111" stroke-width="1.7" />
<line x1="411.1" y1="618.5" x2="411.1" y2="854.2" stroke="#111" stroke-width="1.9" />
<line x1="416.9" y1="618.5" x2="416.9" y2="854.2" stroke="#111" stroke-width="2.8" />
<line x1="184.4" y1="618.5" x2="184.4" y2="854.2" stroke="#111" stroke-width="3.3" />
<line x1="251.1" y1="618.5" x2="251.1" y2="854.2" stroke="#111" stroke-width="3.3" />
<line x1="297.7" y1="618.5" x2="297.7" y2="854.2" stroke="#111" stroke-width="3.3" />
<line x1="364.7" y1="618.5" x2="364.7" y2="854.2" stroke="#111" stroke-width="3.3" />
<circle cx="158.9" cy="644.7" r="16.9" stroke="#111" stroke-width="3.2" fill="none"/>
<circle cx="158.9" cy="644.7" r="13.1" stroke="#111" stroke-width="1.2" fill="none"/>
<circle cx="158.9" cy="827.1" r="16.9" stroke="#111" stroke-width="3.2" fill="none"/>
<circle cx="158.9" cy="827.1" r="13.1" stroke="#111" stroke-width="1.2" fill="none"/>
<circle cx="390.4" cy="644.7" r="16.9" stroke="#111" stroke-width="3.2" fill="none"/>
<circle cx="390.4" cy="644.7" r="13.1" stroke="#111" stroke-width="1.2" fill="none"/>
<circle cx="390.4" cy="827.1" r="16.9" stroke="#111" stroke-width="3.2" fill="none"/>
<circle cx="390.4" cy="827.1" r="13.1" stroke="#111" stroke-width="1.2" fill="none"/>
<line x1="252.8" y1="901.8" x2="296.8" y2="901.8" stroke="#111" stroke-width="3.0" />
<rect x="255.6" y="902" width="37.2" height="15.6" rx="0" stroke="#111" stroke-width="1.8" fill="#fff"/>
<line x1="264.8" y1="902" x2="264.8" y2="917.6" stroke="#111" stroke-width="1.5" />
<line x1="284" y1="902" x2="284" y2="917.6" stroke="#111" stroke-width="1.5" />
<path d="M257.6,917.6 L257.6,931 Q258.5,940 267,942.8 L272,942.4 L291.2,923.2 L290.4,917.6" stroke="#111" stroke-width="1.8" fill="#fff" />
<line x1="257.6" y1="930.4" x2="281.8" y2="930.4" stroke="#111" stroke-width="1.5" />
<path d="M291.22,923.18 L299.35,931.32 L280.12,950.55 L271.98,942.42 Z" stroke="#111" stroke-width="1.8" fill="#fff" />
<path d="M284.99,929.41 L293.13,937.54" stroke="#111" stroke-width="1.4" fill="none" />
<path d="M278.21,936.19 L286.34,944.33" stroke="#111" stroke-width="1.4" fill="none" />
<path d="M297.51,933.15 L300.27,936.76 L313.14,950.76 L299.56,964.34 L285.56,951.47 L281.95,948.71" stroke="#111" stroke-width="1.8" fill="#fff" />
<path d="M300.13,936.9 L285.7,951.33" stroke="#111" stroke-width="1.5" fill="none" />
<path d="M304.37,941.14 L289.94,955.57" stroke="#111" stroke-width="1.5" fill="none" />
<path d="M308.61,945.39 L294.19,959.81" stroke="#111" stroke-width="1.5" fill="none" />
<line x1="158.9" y1="413.4" x2="158.9" y2="644.7" stroke="#303030" stroke-width="1.05" />
<line x1="390.4" y1="413.4" x2="390.4" y2="644.7" stroke="#303030" stroke-width="1.05" />
<line x1="158.9" y1="416.4" x2="390.4" y2="416.4" stroke="#303030" stroke-width="1.05" />
<polygon points="158.9,416.4 174.9,419.3 170.9,416.4 174.9,413.5" fill="#111"/>
<polygon points="390.4,416.4 374.4,413.5 378.4,416.4 374.4,419.3" fill="#111"/>
<text x="270.3" y="413" font-size="19.5" font-style="italic" font-weight="normal" text-anchor="start" fill="#151515" textLength="12.6" lengthAdjust="spacingAndGlyphs" stroke="#151515" stroke-width="0.25">B</text>
<line x1="53" y1="618.5" x2="131" y2="618.5" stroke="#303030" stroke-width="1.05" />
<line x1="53" y1="854.2" x2="131" y2="854.2" stroke="#303030" stroke-width="1.05" />
<line x1="57.2" y1="618.5" x2="57.2" y2="854.2" stroke="#303030" stroke-width="1.05" />
<polygon points="57.2,618.5 54.3,634.5 57.2,630.5 60.1,634.5" fill="#111"/>
<polygon points="57.2,854.2 60.1,838.2 57.2,842.2 54.3,838.2" fill="#111"/>
<text x="53.2" y="746" font-size="19.5" font-style="italic" font-weight="normal" text-anchor="start" fill="#151515" textLength="19.6" lengthAdjust="spacingAndGlyphs" transform="rotate(-90 53.2 746)" stroke="#151515" stroke-width="0.25">L1</text>
<line x1="86.6" y1="644.7" x2="158.9" y2="644.7" stroke="#303030" stroke-width="1.05" />
<line x1="86.6" y1="827.1" x2="158.9" y2="827.1" stroke="#303030" stroke-width="1.05" />
<line x1="92" y1="644.7" x2="92" y2="827.1" stroke="#303030" stroke-width="1.05" />
<polygon points="92,644.7 89.1,660.7 92,656.7 94.9,660.7" fill="#111"/>
<polygon points="92,827.1 94.9,811.1 92,815.1 89.1,811.1" fill="#111"/>
<text x="87.8" y="740.6" font-size="19.5" font-style="italic" font-weight="normal" text-anchor="start" fill="#151515" textLength="13" lengthAdjust="spacingAndGlyphs" transform="rotate(-90 87.8 740.6)" stroke="#151515" stroke-width="0.25">C</text>
<line x1="466" y1="574.3" x2="525.2" y2="574.3" stroke="#222" stroke-width="1.1" />
<line x1="466" y1="574.3" x2="360.6" y2="673.9" stroke="#222" stroke-width="1.1" />
<polygon points="404.1,632 411.88,627.12 408.82,627.53 409.4,624.51" fill="#111"/>
<polygon points="376.9,657.7 369.12,662.58 372.18,662.17 371.6,665.19" fill="#111"/>
<text x="473.1" y="569.8" font-size="18.5" font-style="italic" font-weight="normal" text-anchor="start" fill="#151515" textLength="49" lengthAdjust="spacingAndGlyphs" stroke="#151515" stroke-width="0.25">4*Mxl</text>
<line x1="166.5" y1="971.3" x2="192.5" y2="971.3" stroke="#222" stroke-width="1.1" />
<line x1="192.5" y1="971.3" x2="263.2" y2="942" stroke="#222" stroke-width="1.1" />
<polygon points="263.2,942 253.2,943.98 256.55,944.76 254.73,947.67" fill="#111"/>
<text x="106" y="977.4" font-size="18.5" font-style="italic" font-weight="normal" text-anchor="start" fill="#151515" textLength="60" lengthAdjust="spacingAndGlyphs" stroke="#151515" stroke-width="0.25">Mx 45°</text>
<text x="512" y="623.5" font-size="18.5" font-style="italic" font-weight="normal" text-anchor="start" fill="#151515" textLength="369.6" lengthAdjust="spacingAndGlyphs" stroke="#151515" stroke-width="0.25">* Максимальная длина цельного рельса.</text>
</g>
<g id="minis">
<path d="M519.7,768.1 A118.27,118.27 0 0 1 690.6,768.1" stroke="#222" stroke-width="1.15" fill="none" />
<polygon points="519.7,768.1 532.95,759.62 527.81,760.67 529.3,755.64" fill="#111"/>
<polygon points="690.6,768.1 681,755.64 682.49,760.67 677.35,759.62" fill="#111"/>
<text x="595.2" y="727.5" font-size="18.5" font-style="italic" font-weight="normal" text-anchor="start" fill="#151515" textLength="24.3" lengthAdjust="spacingAndGlyphs" stroke="#151515" stroke-width="0.25">Mr</text>
<g class="ns" transform="translate(466.03 734.86) scale(0.505)">
<path d="M185.3,140.7 L184,138.9 L138.7,138.9 L132.6,144.7 L132.6,170.7 L133.4,171.5 L133.4,190.7 L138,195.4 L160,195.4" stroke="#111" stroke-width="2.2" fill="none" />
<path d="M185.3,140.7 L180,146.5 L180,258 L185.3,262.5" stroke="#111" stroke-width="1.6500000000000001" fill="none" />
<path d="M160,195.4 Q162,196.5 162.9,200 L176,253.3 Q177.5,258.6 185.3,262.5" stroke="#111" stroke-width="2.2" fill="none" />
<path d="M185.3,262.5 L227.6,262.5" stroke="#111" stroke-width="2.2" fill="none" />
<path d="M237.5,188.8 L220.3,205.4 L220.3,218.5 L235.4,232.5 L235.4,241.9 L215.1,262.5" stroke="#111" stroke-width="2.2" fill="none" />
<path d="M238.8,191.6 L223.4,206.4 L223.4,217.4 L238.2,231.4 L238.2,243.2 L219.2,262.5" stroke="#111" stroke-width="1.54" fill="none" />
<path d="M240.1,195 L236.8,199.6 Q236.5,205.5 227.6,206.8 L227.6,214.6 Q236.6,216 238.4,224 L242.7,230.5 L242.7,244 L227.6,260.2 L227.6,279.5 L234.4,285.2 L264.1,285.2 L267.2,281.6" stroke="#111" stroke-width="2.2" fill="none" />
<circle cx="197.3" cy="211.6" r="12.2" stroke="#111" stroke-width="0" fill="#111"/>
<path d="M363.9,140.7 L365.2,138.9 L410.5,138.9 L416.6,144.7 L416.6,170.7 L415.8,171.5 L415.8,190.7 L411.2,195.4 L389.2,195.4" stroke="#111" stroke-width="2.2" fill="none" />
<path d="M363.9,140.7 L369.2,146.5 L369.2,258 L363.9,262.5" stroke="#111" stroke-width="1.6500000000000001" fill="none" />
<path d="M389.2,195.4 Q387.2,196.5 386.3,200 L373.2,253.3 Q371.7,258.6 363.9,262.5" stroke="#111" stroke-width="2.2" fill="none" />
<path d="M363.9,262.5 L321.6,262.5" stroke="#111" stroke-width="2.2" fill="none" />
<path d="M311.7,188.8 L328.9,205.4 L328.9,218.5 L313.8,232.5 L313.8,241.9 L334.1,262.5" stroke="#111" stroke-width="2.2" fill="none" />
<path d="M310.4,191.6 L325.8,206.4 L325.8,217.4 L311,231.4 L311,243.2 L330,262.5" stroke="#111" stroke-width="1.54" fill="none" />
<path d="M309.1,195 L312.4,199.6 Q312.7,205.5 321.6,206.8 L321.6,214.6 Q312.6,216 310.8,224 L306.5,230.5 L306.5,244 L321.6,260.2 L321.6,279.5 L314.8,285.2 L285.1,285.2 L282,281.6" stroke="#111" stroke-width="2.2" fill="none" />
<circle cx="351.9" cy="211.6" r="12.2" stroke="#111" stroke-width="0" fill="#111"/>
<line x1="237.5" y1="188.8" x2="311.7" y2="188.8" stroke="#111" stroke-width="2.2" stroke-linecap="round"/>
<line x1="238.8" y1="191.6" x2="310.4" y2="191.6" stroke="#111" stroke-width="1.54" stroke-linecap="round"/>
<line x1="240.1" y1="195" x2="309.1" y2="195" stroke="#111" stroke-width="2.2" stroke-linecap="round"/>
<line x1="267.2" y1="281.6" x2="282" y2="281.6" stroke="#111" stroke-width="2.2" stroke-linecap="round"/>
<line x1="185.3" y1="140.7" x2="363.9" y2="140.7" stroke="#111" stroke-width="2.2" />
<line x1="250.5" y1="139.4" x2="298.5" y2="139.4" stroke="#111" stroke-width="3.4" />
<path d="M253,140.7 L253,162 A21.5,22.6 0 0 0 292,176.3" stroke="#111" stroke-width="2.2" fill="none" />
<line x1="296" y1="140.7" x2="296" y2="149.6" stroke="#111" stroke-width="2.2" />
<path d="M259,163 A15,15 0 0 1 289,163 A15,15 0 0 1 259,163 Z" stroke="#111" stroke-width="1.7600000000000002" fill="none" />
<path d="M266,150 Q260,163 266,176 M272,149 Q266,163 272,176 M278,149 Q272,163 278,176" stroke="#111" stroke-width="1.54" fill="none" />
<ellipse cx="298.5" cy="163" rx="8" ry="12.5" stroke="#111" stroke-width="1.7600000000000002" fill="#fff" />
<ellipse cx="306.5" cy="163" rx="6.5" ry="9" stroke="#111" stroke-width="1.7600000000000002" fill="#111" />
</g>
<path d="M836,772.8 A132.75,132.75 0 0 1 1027.5,772.8" stroke="#222" stroke-width="1.15" fill="none" />
<polygon points="836,772.8 849.21,764.25 844.07,765.32 845.54,760.29" fill="#111"/>
<polygon points="1027.5,772.8 1017.96,760.29 1019.43,765.32 1014.29,764.25" fill="#111"/>
<text x="920" y="728" font-size="18.5" font-style="italic" font-weight="normal" text-anchor="start" fill="#151515" textLength="26.4" lengthAdjust="spacingAndGlyphs" stroke="#151515" stroke-width="0.25">Mp</text>
<g class="ns" transform="translate(386.64 734.88) scale(0.507)">
<line x1="728.13" y1="196.69" x2="1371.52" y2="196.69" stroke="#111" stroke-width="3.6" />
<line x1="728.13" y1="206.75" x2="1371.52" y2="206.75" stroke="#111" stroke-width="3.0" />
<line x1="728.13" y1="216.21" x2="1371.52" y2="216.21" stroke="#111" stroke-width="3.0" />
<line x1="728.13" y1="228.05" x2="1371.52" y2="228.05" stroke="#111" stroke-width="5.4" />
<line x1="728.13" y1="244.03" x2="1371.52" y2="244.03" stroke="#111" stroke-width="3.6" />
<line x1="728.13" y1="258.82" x2="1371.52" y2="258.82" stroke="#111" stroke-width="3.0" />
<line x1="728.13" y1="278.94" x2="1371.52" y2="278.94" stroke="#111" stroke-width="1.8" />
<line x1="728.13" y1="284.26" x2="1371.52" y2="284.26" stroke="#111" stroke-width="2.0" />
<line x1="728.13" y1="193.14" x2="728.13" y2="286.23" stroke="#111" stroke-width="2.0" />
<line x1="1371.52" y1="193.14" x2="1371.52" y2="286.23" stroke="#111" stroke-width="2.0" />
<rect x="908.6" y="140.4" width="335" height="122.1" rx="0" stroke="#111" stroke-width="0" fill="#fff"/>
<rect x="908.6" y="140.4" width="7.8" height="122.1" rx="0" stroke="#111" stroke-width="1.7" fill="none"/>
<rect x="916.4" y="140.4" width="41.9" height="122.1" rx="0" stroke="#111" stroke-width="1.7" fill="none"/>
<rect x="1235.3" y="140.4" width="8.3" height="122.1" rx="0" stroke="#111" stroke-width="1.7" fill="none"/>
<rect x="1193.9" y="140.4" width="41.4" height="122.1" rx="0" stroke="#111" stroke-width="1.7" fill="none"/>
<line x1="908.6" y1="145.8" x2="958.3" y2="145.8" stroke="#111" stroke-width="1.8" />
<line x1="1193.9" y1="145.9" x2="1243.6" y2="145.9" stroke="#111" stroke-width="1.8" />
<line x1="908.6" y1="256.4" x2="958.3" y2="256.4" stroke="#111" stroke-width="1.8" />
<line x1="1193.9" y1="256.4" x2="1243.6" y2="256.4" stroke="#111" stroke-width="1.8" />
<rect x="958.3" y="138.9" width="235.6" height="123.6" rx="0" stroke="#111" stroke-width="1.7" fill="#fff"/>
<line x1="958.3" y1="144.8" x2="1193.9" y2="144.8" stroke="#111" stroke-width="1.8" />
<line x1="958.3" y1="191" x2="1193.9" y2="191" stroke="#111" stroke-width="2.0" />
<line x1="958.3" y1="195.8" x2="1193.9" y2="195.8" stroke="#111" stroke-width="1.8" />
<line x1="1005.3" y1="201" x2="1147.7" y2="201" stroke="#111" stroke-width="1.8" />
<line x1="958.3" y1="254.6" x2="979.3" y2="254.6" stroke="#111" stroke-width="1.8" />
<line x1="991.2" y1="254.6" x2="1161.8" y2="254.6" stroke="#111" stroke-width="1.8" />
<line x1="1173.7" y1="254.6" x2="1193.9" y2="254.6" stroke="#111" stroke-width="1.8" />
<rect x="958.3" y="195.8" width="5.6" height="5.2" rx="0" stroke="#111" stroke-width="1.5" fill="none"/>
<rect x="1188.3" y="195.8" width="5.6" height="5.2" rx="0" stroke="#111" stroke-width="1.5" fill="none"/>
<path d="M965.3,195.8 C966.6,215 969.2,235 974.8,250.6 Q985.3,262 995.6,250.6 C1001,235 1003.8,215 1005.3,195.8" stroke="#111" stroke-width="1.9" fill="none" />
<path d="M1147.7,195.8 C1149.2,215 1152,235 1157.4,250.6 Q1167.7,262 1178.2,250.6 C1183.8,235 1186.4,215 1187.7,195.8" stroke="#111" stroke-width="1.9" fill="none" />
<circle cx="936" cy="163.2" r="11.4" stroke="#111" stroke-width="3.4" fill="none"/>
<circle cx="936" cy="163.2" r="13.6" stroke="#111" stroke-width="1.0" fill="none"/>
<circle cx="1216.4" cy="163" r="11.4" stroke="#111" stroke-width="3.4" fill="none"/>
<circle cx="1216.4" cy="163" r="13.6" stroke="#111" stroke-width="1.0" fill="none"/>
<circle cx="1216.4" cy="163" r="4" stroke="#111" stroke-width="1.4" fill="none"/>
<circle cx="1216.4" cy="163" r="1.3" stroke="#111" stroke-width="0" fill="#111"/>
<rect x="921.4" y="182.6" width="25.4" height="62.1" rx="3" stroke="#111" stroke-width="2.2" fill="none"/>
<rect x="1205.6" y="182.6" width="25.6" height="62.1" rx="3" stroke="#111" stroke-width="2.2" fill="none"/>
<path d="M1243.6,144.3 L1249,144.3 Q1251.6,144.3 1251.6,147 L1251.6,178.4 Q1251.6,181 1249,181 L1243.6,181" stroke="#111" stroke-width="1.8" fill="none" />
<line x1="1251.3" y1="146.5" x2="1251.3" y2="179" stroke="#111" stroke-width="2.6" />
<path d="M1016.6,154.6 L1023.4,147.6 L1028.3,153.6 L1022.2,160.2 L1029.2,163.6 L1018.6,171.6" stroke="#111" stroke-width="2.6" fill="none" stroke-linejoin="miter" stroke-linecap="square"/>
<text x="1034" y="164.5" font-size="18.2" font-style="normal" font-weight="bold" text-anchor="start" fill="#111" textLength="104.5" lengthAdjust="spacingAndGlyphs" stroke="#111" stroke-width="0.5">BALLROLL</text>
<line x1="880.2" y1="146.1" x2="908.6" y2="146.1" stroke="#111" stroke-width="1.3" />
<line x1="880.2" y1="179.5" x2="908.6" y2="179.5" stroke="#111" stroke-width="1.3" />
<line x1="895" y1="146.1" x2="895" y2="179.5" stroke="#111" stroke-width="1.3" />
<line x1="895" y1="162.7" x2="908.6" y2="162.7" stroke="#111" stroke-width="1.3" />
<path d="M872.7,146.1 L880.2,146.1 L889.2,154.7 L889.2,170.2 L880.2,179.5 L872.7,179.5" stroke="#111" stroke-width="1.3" fill="none" />
<path d="M883.3,154.7 L889.2,154.7" stroke="#111" stroke-width="1.04" fill="none" />
<path d="M883.3,170.2 L889.2,170.2" stroke="#111" stroke-width="1.04" fill="none" />
<path d="M875.6,146.8 L883.3,154.7 L883.3,170.2 L875.6,178.8" stroke="#111" stroke-width="1.3" fill="none" />
<path d="M878,146.4 L886.3,154.5" stroke="#111" stroke-width="0.78" fill="none" />
<path d="M878,179.2 L886.3,170.4" stroke="#111" stroke-width="0.78" fill="none" />
<path d="M872.7,146.1 Q879.2,162.7 872.7,179.5" stroke="#111" stroke-width="1.3" fill="none" />
<path d="M870.5,148.6 Q876.2,162.7 870.5,177.4" stroke="#111" stroke-width="1.105" fill="none" />
<path d="M854,152.7 L861,149.4 Q866,148.8 870.5,151.5 Q875,162.7 870.5,174.5 Q866,177 861,176.3 L854,172.8" stroke="#111" stroke-width="1.3" fill="#fff" />
<ellipse cx="853.6" cy="162.7" rx="7.5" ry="10.1" stroke="#111" stroke-width="1.3" fill="#111" />
<ellipse cx="853.9" cy="162.7" rx="4.7" ry="6.4" stroke="#111" stroke-width="1.2" fill="#111" />
<ellipse cx="855.2" cy="162.7" rx="1.3" ry="2.6" stroke="#111" stroke-width="0" fill="#fff" />
<line x1="859.5" y1="162.7" x2="871.5" y2="162.7" stroke="#111" stroke-width="1.04" />
</g>
<path d="M1222.5,773.9 A142.48,142.48 0 0 1 1429.2,773.9" stroke="#222" stroke-width="1.15" fill="none" />
<polygon points="1222.5,773.9 1235.62,765.22 1230.49,766.34 1231.91,761.29" fill="#111"/>
<polygon points="1429.2,773.9 1419.79,761.29 1421.21,766.34 1416.08,765.22" fill="#111"/>
<text x="1315" y="725.4" font-size="18.5" font-style="italic" font-weight="normal" text-anchor="start" fill="#151515" textLength="26.6" lengthAdjust="spacingAndGlyphs" stroke="#151515" stroke-width="0.25">My</text>
<g class="ns" transform="translate(1325.9 841.7) rotate(90) scale(0.504) translate(-274.5 -736.35)">
<rect x="227.4" y="436.3" width="94.2" height="132.5" rx="0" stroke="#111" stroke-width="1.7" fill="#fff"/>
<line x1="229.6" y1="436.3" x2="229.6" y2="568.8" stroke="#111" stroke-width="1.6" />
<line x1="319.4" y1="436.3" x2="319.4" y2="568.8" stroke="#111" stroke-width="1.6" />
<line x1="239.5" y1="436.3" x2="239.5" y2="568.8" stroke="#111" stroke-width="2.4" />
<line x1="309.5" y1="436.3" x2="309.5" y2="568.8" stroke="#111" stroke-width="2.4" />
<line x1="226.4" y1="436.3" x2="322.6" y2="436.3" stroke="#111" stroke-width="1.7" />
<rect x="227.4" y="904" width="94.2" height="183" rx="0" stroke="#111" stroke-width="1.7" fill="#fff"/>
<line x1="229.6" y1="904" x2="229.6" y2="1087" stroke="#111" stroke-width="1.6" />
<line x1="319.4" y1="904" x2="319.4" y2="1087" stroke="#111" stroke-width="1.6" />
<line x1="239.5" y1="904" x2="239.5" y2="1087" stroke="#111" stroke-width="2.4" />
<line x1="309.5" y1="904" x2="309.5" y2="1087" stroke="#111" stroke-width="2.4" />
<line x1="226.4" y1="1087" x2="322.6" y2="1087" stroke="#111" stroke-width="1.7" />
<circle cx="274.6" cy="517.2" r="20.7" stroke="#111" stroke-width="2.8" fill="none"/>
<circle cx="274.6" cy="517.2" r="14.1" stroke="#111" stroke-width="1.5" fill="none"/>
<circle cx="274.5" cy="1005" r="20.7" stroke="#111" stroke-width="2.8" fill="none"/>
<circle cx="274.5" cy="1005" r="14.1" stroke="#111" stroke-width="1.5" fill="none"/>
<rect x="178.6" y="568.8" width="192.2" height="49.7" rx="0" stroke="#111" stroke-width="1.7" fill="#fff"/>
<line x1="178.6" y1="577.2" x2="370.8" y2="577.2" stroke="#111" stroke-width="2.6" />
<line x1="185.2" y1="568.8" x2="185.2" y2="618.5" stroke="#111" stroke-width="1.7" />
<line x1="364.6" y1="568.8" x2="364.6" y2="618.5" stroke="#111" stroke-width="1.7" />
<path d="M187,568.8 L187,565.4 Q188,561.6 193,561.4 L202,561.4 Q207,561.6 208,565.4 L208,568.8" stroke="#111" stroke-width="1.4" fill="#111" />
<rect x="189.2" y="565.7" width="16.6" height="2.2" rx="0" stroke="#111" stroke-width="0" fill="#fff"/>
<path d="M341.2,568.8 L341.2,565.4 Q342.2,561.6 347.2,561.4 L356.2,561.4 Q361.2,561.6 362.2,565.4 L362.2,568.8" stroke="#111" stroke-width="1.4" fill="#111" />
<rect x="343.4" y="565.7" width="16.6" height="2.2" rx="0" stroke="#111" stroke-width="0" fill="#fff"/>
<rect x="178.6" y="854.2" width="192.2" height="49.8" rx="0" stroke="#111" stroke-width="1.7" fill="#fff"/>
<line x1="178.6" y1="896.2" x2="370.8" y2="896.2" stroke="#111" stroke-width="2.6" />
<line x1="185.2" y1="854.2" x2="185.2" y2="904" stroke="#111" stroke-width="1.7" />
<line x1="364.6" y1="854.2" x2="364.6" y2="904" stroke="#111" stroke-width="1.7" />
<path d="M187,904 L187,907.4 Q188,911.2 193,911.4 L202,911.4 Q207,911.2 208,907.4 L208,904" stroke="#111" stroke-width="1.4" fill="#111" />
<rect x="189.2" y="904.9" width="16.6" height="2.2" rx="0" stroke="#111" stroke-width="0" fill="#fff"/>
<path d="M341.2,904 L341.2,907.4 Q342.2,911.2 347.2,911.4 L356.2,911.4 Q361.2,911.2 362.2,907.4 L362.2,904" stroke="#111" stroke-width="1.4" fill="#111" />
<rect x="343.4" y="904.9" width="16.6" height="2.2" rx="0" stroke="#111" stroke-width="0" fill="#fff"/>
<path d="M255.6,568.8 L255.6,563 Q255.6,560.6 258,560.6 L291,560.6 Q293.4,560.6 293.4,563 L293.4,568.8" stroke="#111" stroke-width="1.8" fill="#fff" />
<line x1="256.5" y1="561.6" x2="292.5" y2="561.6" stroke="#111" stroke-width="2.6" />
<line x1="251.6" y1="570.2" x2="297" y2="570.2" stroke="#111" stroke-width="3.0" />
<rect x="131.7" y="618.5" width="285.5" height="235.7" rx="0" stroke="#111" stroke-width="1.7" fill="#fff"/>
<line x1="138.1" y1="618.5" x2="138.1" y2="854.2" stroke="#111" stroke-width="1.7" />
<line x1="411.1" y1="618.5" x2="411.1" y2="854.2" stroke="#111" stroke-width="1.9" />
<line x1="416.9" y1="618.5" x2="416.9" y2="854.2" stroke="#111" stroke-width="2.8" />
<line x1="184.4" y1="618.5" x2="184.4" y2="854.2" stroke="#111" stroke-width="3.3" />
<line x1="251.1" y1="618.5" x2="251.1" y2="854.2" stroke="#111" stroke-width="3.3" />
<line x1="297.7" y1="618.5" x2="297.7" y2="854.2" stroke="#111" stroke-width="3.3" />
<line x1="364.7" y1="618.5" x2="364.7" y2="854.2" stroke="#111" stroke-width="3.3" />
<circle cx="158.9" cy="644.7" r="16.9" stroke="#111" stroke-width="3.2" fill="none"/>
<circle cx="158.9" cy="644.7" r="13.1" stroke="#111" stroke-width="1.2" fill="none"/>
<circle cx="158.9" cy="827.1" r="16.9" stroke="#111" stroke-width="3.2" fill="none"/>
<circle cx="158.9" cy="827.1" r="13.1" stroke="#111" stroke-width="1.2" fill="none"/>
<circle cx="390.4" cy="644.7" r="16.9" stroke="#111" stroke-width="3.2" fill="none"/>
<circle cx="390.4" cy="644.7" r="13.1" stroke="#111" stroke-width="1.2" fill="none"/>
<circle cx="390.4" cy="827.1" r="16.9" stroke="#111" stroke-width="3.2" fill="none"/>
<circle cx="390.4" cy="827.1" r="13.1" stroke="#111" stroke-width="1.2" fill="none"/>
<line x1="252.8" y1="901.8" x2="296.8" y2="901.8" stroke="#111" stroke-width="3.0" />
<rect x="255.6" y="902" width="37.2" height="15.6" rx="0" stroke="#111" stroke-width="1.8" fill="#fff"/>
<line x1="264.8" y1="902" x2="264.8" y2="917.6" stroke="#111" stroke-width="1.5" />
<line x1="284" y1="902" x2="284" y2="917.6" stroke="#111" stroke-width="1.5" />
<path d="M257.6,917.6 L257.6,931 Q258.5,940 267,942.8 L272,942.4 L291.2,923.2 L290.4,917.6" stroke="#111" stroke-width="1.8" fill="#fff" />
<line x1="257.6" y1="930.4" x2="281.8" y2="930.4" stroke="#111" stroke-width="1.5" />
<path d="M291.22,923.18 L299.35,931.32 L280.12,950.55 L271.98,942.42 Z" stroke="#111" stroke-width="1.8" fill="#fff" />
<path d="M284.99,929.41 L293.13,937.54" stroke="#111" stroke-width="1.4" fill="none" />
<path d="M278.21,936.19 L286.34,944.33" stroke="#111" stroke-width="1.4" fill="none" />
<path d="M297.51,933.15 L300.27,936.76 L313.14,950.76 L299.56,964.34 L285.56,951.47 L281.95,948.71" stroke="#111" stroke-width="1.8" fill="#fff" />
<path d="M300.13,936.9 L285.7,951.33" stroke="#111" stroke-width="1.5" fill="none" />
<path d="M304.37,941.14 L289.94,955.57" stroke="#111" stroke-width="1.5" fill="none" />
<path d="M308.61,945.39 L294.19,959.81" stroke="#111" stroke-width="1.5" fill="none" />
</g>
</g>
</svg></body></html>
